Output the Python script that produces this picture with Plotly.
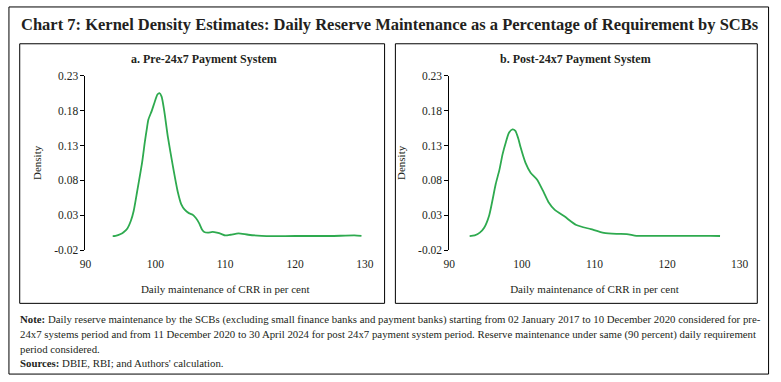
import plotly.graph_objects as go

W, H = 781, 382

# ---- data ----
pre_x = [93.9, 94.3, 95.05, 95.5, 96.0, 96.5, 96.9, 97.4, 98.1, 98.5, 98.8, 99.0, 99.5, 99.9, 100.3, 100.6,
         100.9, 101.27, 101.8, 102.5, 103.2, 103.7, 104.2, 104.8, 105.3, 105.8, 106.3, 106.7, 107.0, 107.5,
         108.2, 108.8, 109.5, 110.0, 110.8, 111.9, 113.3, 115.2, 117.0, 120.0, 125.0, 128.5, 129.5]
pre_y = [0.0, 0.0003, 0.003, 0.006, 0.011, 0.022, 0.036, 0.064, 0.105, 0.135, 0.155, 0.167, 0.180, 0.192, 0.203, 0.205,
         0.200, 0.180, 0.142, 0.101, 0.064, 0.046, 0.038, 0.033, 0.031, 0.026, 0.018, 0.009, 0.006, 0.005,
         0.006, 0.005, 0.003, 0.001, 0.002, 0.004, 0.002, 0.0005, 0.0001, 0.0002, 0.0002, 0.001, 0.0003]

post_x = [92.8, 93.5, 94.2, 94.8, 95.5, 96.4, 96.9, 97.35, 97.8, 98.2, 98.7, 99.1, 99.5, 99.8, 100.5, 101.2,
          102.1, 103.0, 103.65, 104.5, 105.9, 107.5, 109.5, 111.3, 113.1, 114.45, 115.8, 118.0, 122.0, 126.0, 127.3]
post_y = [0.0, 0.001, 0.005, 0.012, 0.030, 0.075, 0.095, 0.118, 0.135, 0.148, 0.153, 0.151, 0.140, 0.128, 0.105, 0.091,
          0.081, 0.063, 0.049, 0.038, 0.028, 0.016, 0.010, 0.0046, 0.0033, 0.003, 0.0005, 0.0003, 0.0005, 0.0004, 0.0002]

y_ticks = [-0.02, 0.03, 0.08, 0.13, 0.18, 0.23]
y_ticktext = ["-0.02", "0.03", "0.08", "0.13", "0.18", "0.23"]
x_ticks = [90, 100, 110, 120, 130]

title = "Chart 7: Kernel Density Estimates: Daily Reserve Maintenance as a Percentage of Requirement by SCBs"
sub_titles = ["a. Pre-24x7 Payment System", "b. Post-24x7 Payment System"]
x_title = "Daily maintenance of CRR in per cent"
y_title = "Density"
note_lines = [
    "<b>Note:</b> Daily reserve maintenance by the SCBs (excluding small finance banks and payment banks) starting from 02 January 2017 to 10 December 2020 considered for pre-",
    "24x7 systems period and from 11 December 2020 to 30 April 2024 for post 24x7 payment system period. Reserve maintenance under same (90 percent) daily requirement",
    "period considered.",
    "<b>Sources:</b> DBIE, RBI; and Authors' calculation.",
]

GREEN = "#2eaa4f"
FONT = "Liberation Serif"
TXT = "#231f20"


def px(x):
    return x / W


def py(y):
    return 1 - y / H


YMIN, YMAX = -0.02, 0.23
plot_top, plot_bot = 72, 252
panels = [
    dict(x0=81, x1=366, box=(14, 39, 386, 307), tcx=202),
    dict(x0=452, x1=748, box=(397, 39, 766, 307), tcx=581),
]

fig = go.Figure()
layout = dict(
    width=W, height=H, margin=dict(l=0, r=0, t=0, b=0),
    paper_bgcolor="white", plot_bgcolor="rgba(0,0,0,0)",
    showlegend=False, font=dict(family=FONT, color=TXT, size=11),
)
annotations = []
shapes = []

ydom = [py(plot_bot), py(plot_top)]
zero_pos = ydom[0] + (0 - YMIN) / (YMAX - YMIN) * (ydom[1] - ydom[0])

for i, (p, xs, ys) in enumerate(zip(panels, [pre_x, post_x], [pre_y, post_y])):
    n = i + 1
    xa = "x" if n == 1 else f"x{n}"
    ya = "y" if n == 1 else f"y{n}"
    xkey = "xaxis" if n == 1 else f"xaxis{n}"
    ykey = "yaxis" if n == 1 else f"yaxis{n}"
    xdom = [px(p["x0"]), px(p["x1"])]
    fig.add_trace(go.Scatter(x=xs, y=ys, mode="lines", xaxis=xa, yaxis=ya,
                             line=dict(color=GREEN, width=1.8, shape="spline", smoothing=0.6),
                             hoverinfo="skip"))
    layout[xkey] = dict(domain=xdom, anchor=ya, range=[90, 130], tickvals=x_ticks,
                        showline=False, ticks="", showgrid=False, zeroline=False,
                        ticklabelstandoff=5,
                        tickfont=dict(size=11.5, color=TXT),
                        title=dict(text=x_title, font=dict(size=11, color=TXT), standoff=16))
    layout[ykey] = dict(domain=ydom, anchor=xa, range=[YMIN, YMAX], tickvals=y_ticks, ticktext=y_ticktext,
                        showline=True, linecolor="black", linewidth=1, ticks="outside", ticklen=4,
                        tickcolor="black", showgrid=False, zeroline=False,
                        tickfont=dict(size=11.5, color=TXT),
                        title=dict(text=y_title, font=dict(size=11, color=TXT), standoff=10))
    # overlay axis drawn at y = 0 with tick marks only
    ox = f"xaxis{n + 2}"
    layout[ox] = dict(domain=xdom, overlaying=xa, anchor="free", position=zero_pos, range=[90, 130],
                      tickvals=x_ticks, showticklabels=False, showline=True, linecolor="black",
                      linewidth=1, ticks="outside", ticklen=4, tickcolor="black",
                      showgrid=False, zeroline=False)
    bx0, by0, bx1, by1 = p["box"]
    shapes.append(dict(type="rect", xref="paper", yref="paper", x0=px(bx0), x1=px(bx1), y0=py(by1), y1=py(by0),
                       line=dict(color="black", width=1)))
    annotations.append(dict(text=f"<b>{sub_titles[i]}</b>", xref="paper", yref="paper",
                            x=px(p["tcx"]), y=py(55), xanchor="center", yanchor="middle", showarrow=False,
                            font=dict(size=12, color=TXT)))

# outer frame
shapes.append(dict(type="rect", xref="paper", yref="paper", x0=px(3), x1=px(777.5), y0=py(380), y1=py(1),
                   line=dict(color="black", width=1)))

annotations.append(dict(text=f"<b>{title}</b>", xref="paper", yref="paper", x=px(392), y=py(19),
                        xanchor="center", yanchor="middle", showarrow=False,
                        font=dict(size=16.5, color=TXT, family=FONT)))

for k, line in enumerate(note_lines):
    annotations.append(dict(text=line, xref="paper", yref="paper", x=px(12), y=py(324 + 15 * k),
                            xanchor="left", yanchor="middle", showarrow=False, align="left",
                            font=dict(size=10.8, color=TXT, family=FONT)))

layout["annotations"] = annotations
layout["shapes"] = shapes
fig.update_layout(**layout)

fig.write_html("out.html", config={"displayModeBar": False},
               post_script="document.body.style.margin='0';document.body.style.overflow='hidden';")
